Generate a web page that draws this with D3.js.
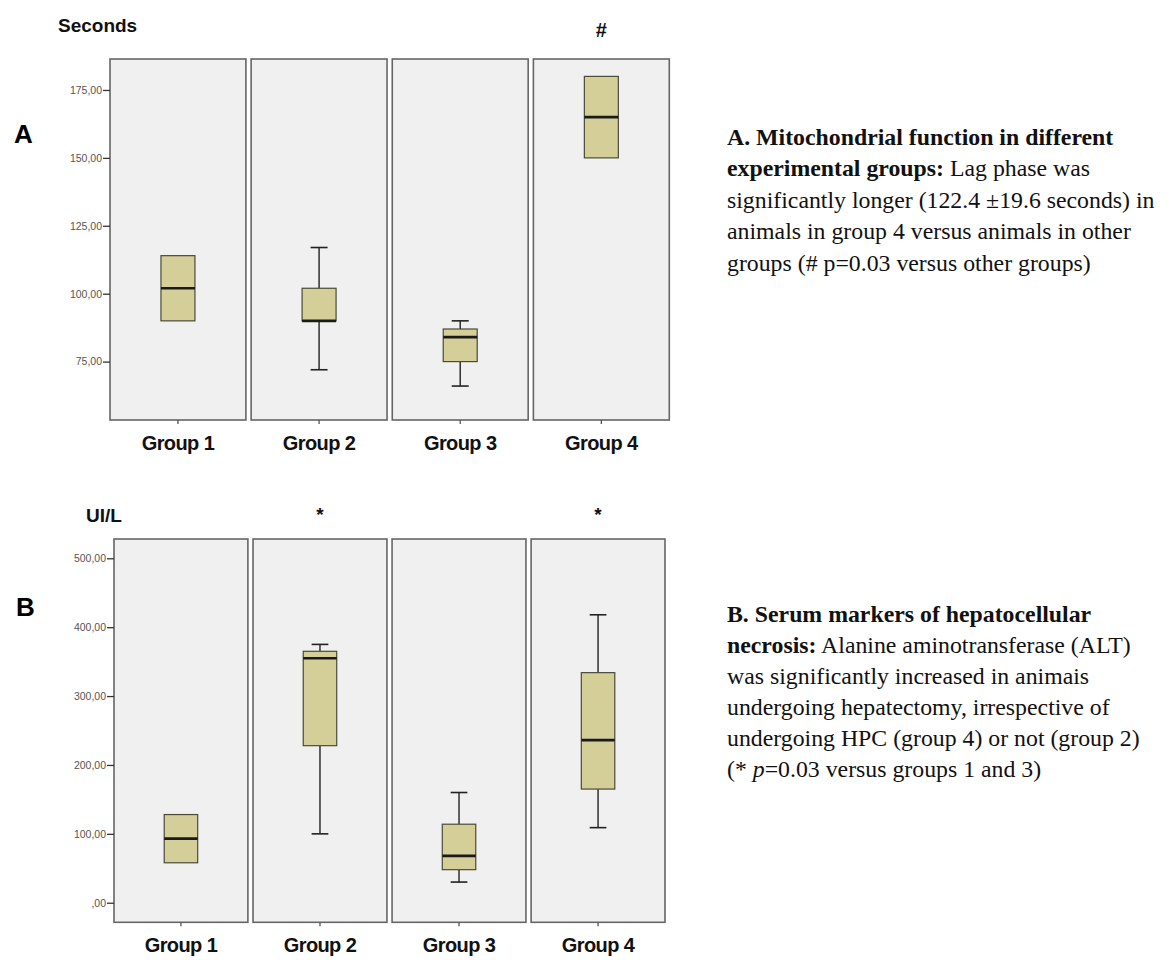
<!DOCTYPE html>
<html>
<head>
<meta charset="utf-8">
<script src="https://cdn.jsdelivr.net/npm/d3@7"></script>
<style>
  body { margin: 0; background: #fff; }
  svg { display: block; }
  .caption { font-family: "Liberation Serif", "Times New Roman", serif; font-size: 23.8px; fill: #111; }
  .sans { font-family: "Liberation Sans", Arial, sans-serif; }
</style>
</head>
<body>
<svg id="chart" width="1169" height="960"></svg>
<script>
// groups shared by both panels
const groups = ["Group 1", "Group 2", "Group 3", "Group 4"];

// A - lag phase (seconds)
const lagMin    = [90, 72, 66, 150];
const lagQ1     = [90, 90, 75, 150];
const lagMedian = [102, 90, 84, 165];
const lagQ3     = [114, 102, 87, 180];
const lagMax    = [114, 117, 90, 180];
const lagTicks  = [75, 100, 125, 150, 175];
const lagMarks  = ["", "", "", "#"];

// B - ALT (UI/L)
const altMin    = [58, 100, 30, 109];
const altQ1     = [58, 228, 48, 165];
const altMedian = [93, 355, 68, 236];
const altQ3     = [128, 365, 114, 334];
const altMax    = [128, 375, 160, 418];
const altTicks  = [0, 100, 200, 300, 400, 500];
const altMarks  = ["", "*", "", "*"];

const svg = d3.select("#chart");

const locale = d3.formatLocale({ decimal: ",", thousands: ".", grouping: [3], currency: ["", ""] });
const fmt = v => locale.format(".2f")(v).replace(/^0,/, ",");

function drawPanel(o) {
    const x = d3.scaleBand().domain(groups).range([o.left, o.right]).paddingInner(0.037).paddingOuter(0);
    const y = d3.scaleLinear().domain(o.domain).range([o.bottom, o.top]);
    const g = svg.append("g");

    // panel backgrounds
    g.selectAll("rect.panel")
        .data(groups)
        .enter().append("rect")
        .attr("class", "panel")
        .attr("x", d => x(d))
        .attr("y", o.top)
        .attr("width", x.bandwidth())
        .attr("height", o.bottom - o.top)
        .attr("fill", "#f0f0f0")
        .attr("stroke", "#666")
        .attr("stroke-width", 1.6);

    // y axis
    const yAxis = g.append("g")
        .attr("transform", `translate(${o.left},0)`)
        .call(d3.axisLeft(y).tickValues(o.ticks).tickSize(7).tickPadding(1).tickFormat(fmt));
    yAxis.select(".domain").remove();
    yAxis.selectAll(".tick line").attr("stroke", "#333").attr("stroke-width", 1.3);
    yAxis.selectAll(".tick text")
        .attr("class", "sans")
        .attr("font-size", 10.5)
        .attr("fill", "#555");

    // x axis
    const xAxis = g.append("g")
        .attr("transform", `translate(0,${o.bottom})`)
        .call(d3.axisBottom(x).tickSize(4).tickPadding(12));
    xAxis.select(".domain").remove();
    xAxis.selectAll(".tick line").attr("stroke", "#555").attr("stroke-width", 1.3);
    xAxis.selectAll(".tick text")
        .attr("class", "sans")
        .attr("font-size", 20)
        .attr("font-weight", "bold")
        .attr("letter-spacing", -0.6)
        .attr("fill", "#111");

    const bw = x.bandwidth() * 0.25;
    const cx = d => x(d) + x.bandwidth() / 2;
    const idx = groups.map((d, i) => i);

    // whiskers
    idx.forEach(i => {
        const c = cx(groups[i]);
        if (o.max[i] > o.q3[i]) {
            g.append("line").attr("x1", c).attr("x2", c)
                .attr("y1", y(o.q3[i])).attr("y2", y(o.max[i]))
                .attr("stroke", "#222").attr("stroke-width", 1.4);
            g.append("line").attr("x1", c - bw / 4).attr("x2", c + bw / 4)
                .attr("y1", y(o.max[i])).attr("y2", y(o.max[i]))
                .attr("stroke", "#222").attr("stroke-width", 1.6);
        }
        if (o.min[i] < o.q1[i]) {
            g.append("line").attr("x1", c).attr("x2", c)
                .attr("y1", y(o.q1[i])).attr("y2", y(o.min[i]))
                .attr("stroke", "#222").attr("stroke-width", 1.4);
            g.append("line").attr("x1", c - bw / 4).attr("x2", c + bw / 4)
                .attr("y1", y(o.min[i])).attr("y2", y(o.min[i]))
                .attr("stroke", "#222").attr("stroke-width", 1.6);
        }
    });

    // boxes
    g.selectAll("rect.box")
        .data(idx)
        .enter().append("rect")
        .attr("class", "box")
        .attr("x", i => cx(groups[i]) - bw / 2)
        .attr("y", i => y(o.q3[i]))
        .attr("width", bw)
        .attr("height", i => y(o.q1[i]) - y(o.q3[i]))
        .attr("fill", "#d4cf99")
        .attr("stroke", "#4b4a38")
        .attr("stroke-width", 1.2);

    // medians
    g.selectAll("line.median")
        .data(idx)
        .enter().append("line")
        .attr("class", "median")
        .attr("x1", i => cx(groups[i]) - bw / 2)
        .attr("x2", i => cx(groups[i]) + bw / 2)
        .attr("y1", i => y(o.median[i]))
        .attr("y2", i => y(o.median[i]))
        .attr("stroke", "#1a1a1a")
        .attr("stroke-width", 2.6);

    // significance marks
    g.selectAll("text.mark")
        .data(idx)
        .enter().append("text")
        .attr("class", "sans")
        .attr("x", i => cx(groups[i]))
        .attr("y", o.markY)
        .attr("text-anchor", "middle")
        .attr("font-size", o.markSize)
        .attr("font-weight", "bold")
        .attr("fill", "#111")
        .text(i => o.marks[i]);

    // unit label and panel letter
    g.append("text").attr("class", "sans")
        .attr("x", o.unitX).attr("y", o.unitY)
        .attr("font-size", 19).attr("font-weight", "bold").attr("fill", "#111")
        .text(o.unit);
    g.append("text").attr("class", "sans")
        .attr("x", o.letterX).attr("y", o.letterY)
        .attr("font-size", 26).attr("font-weight", "bold").attr("fill", "#000")
        .text(o.letter);
}

drawPanel({
    left: 110, right: 669.3, top: 59, bottom: 420,
    domain: [53.5, 186.4], ticks: lagTicks,
    min: lagMin, q1: lagQ1, median: lagMedian, q3: lagQ3, max: lagMax,
    marks: lagMarks, markY: 37, markSize: 20,
    unit: "Seconds", unitX: 58, unitY: 31.5,
    letter: "A", letterX: 14, letterY: 142.5
});

drawPanel({
    left: 114, right: 665, top: 539, bottom: 922.3,
    domain: [-28.4, 528], ticks: altTicks,
    min: altMin, q1: altQ1, median: altMedian, q3: altQ3, max: altMax,
    marks: altMarks, markY: 521, markSize: 19,
    unit: "UI/L", unitX: 86, unitY: 521.5,
    letter: "B", letterX: 16, letterY: 616
});

// captions
const captionA = [
    [["A. Mitochondrial function in different", true]],
    [["experimental groups:", true], [" Lag phase was", false]],
    [["significantly longer (122.4 \u00b119.6 seconds) in", false]],
    [["animals in group 4 versus animals in other", false]],
    [["groups (# p=0.03 versus other groups)", false]]
];
const captionB = [
    [["B. Serum markers of hepatocellular", true]],
    [["necrosis:", true], [" Alanine aminotransferase (ALT)", false]],
    [["was significantly increased in animais", false]],
    [["undergoing hepatectomy, irrespective of", false]],
    [["undergoing HPC (group 4) or not (group 2)", false]],
    [["(* ", false], ["p", "italic"], ["=0.03 versus groups 1 and 3)", false]]
];

function drawCaption(lines, x0, y0, lh) {
    const t = svg.append("text").attr("class", "caption");
    lines.forEach((parts, li) => {
        parts.forEach((p, pi) => {
            const ts = t.append("tspan").text(p[0]);
            if (pi === 0) ts.attr("x", x0).attr("y", y0 + li * lh);
            if (p[1] === true) ts.attr("font-weight", "bold");
            if (p[1] === "italic") ts.attr("font-style", "italic");
        });
    });
}

drawCaption(captionA, 727, 144.5, 31.6);
drawCaption(captionB, 727, 621.5, 31);
</script>
</body>
</html>
